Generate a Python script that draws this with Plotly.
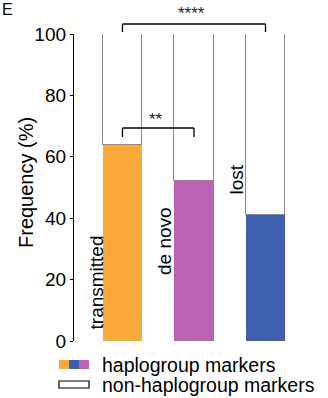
import plotly.graph_objects as go

# Categories and stacked percentages
categories = ["transmitted", "de novo", "lost"]
haplogroup_pct = [64, 52, 41]
non_haplogroup_pct = [100 - v for v in haplogroup_pct]
bar_colors = ["#F9A93A", "#BA62B4", "#3E5EB0"]
y_ticks = [0, 20, 40, 60, 80, 100]

# Significance brackets: (left category index, right category index, label)
brackets = [(0, 2, "****"), (0, 1, "**")]

W, H = 328, 398
L, R, T, B = 74, 28, 34, 57
pw, ph = W - L - R, H - T - B
xpos = list(range(len(categories)))
xmin, xmax = -0.678, 2.4825
FONT = "Liberation Sans, Arial, Helvetica, sans-serif"


def px(xp):
    return (xp - L) / pw


def py(yp):
    return (H - B - yp) / ph


def dx(v):
    return (v - xmin) / (xmax - xmin)


fig = go.Figure()
fig.add_trace(go.Bar(
    x=xpos, y=haplogroup_pct, width=0.55,
    marker=dict(color=bar_colors, line=dict(width=0)),
    showlegend=False,
))
fig.add_trace(go.Bar(
    x=xpos, y=non_haplogroup_pct, width=0.55,
    marker=dict(color="white", line=dict(color="#8a8a8a", width=1.2)),
    showlegend=False,
))

shapes = []
annotations = []

# Category names written vertically beside each bar
label_offsets = [(-26, 282), (-30, 241), (-29, 179)]
for i, name in enumerate(categories):
    ox, cy = label_offsets[i]
    annotations.append(dict(
        x=xpos[i] + ox / 71.5, y=py(cy), xref="x", yref="paper",
        text=name, textangle=-90, showarrow=False,
        font=dict(family=FONT, size=19, color="black"),
        xanchor="center", yanchor="middle",
    ))

# Brackets with significance stars
bracket_rows = [(24, 32, 14), (128, 137, 119)]
for (a, b, label), (ytop, ybot, ystar) in zip(brackets, bracket_rows):
    xa, xb = dx(xpos[a]), dx(xpos[b])
    line = dict(color="black", width=1.3)
    shapes.append(dict(type="line", xref="paper", yref="paper",
                       x0=xa, x1=xb, y0=py(ytop), y1=py(ytop), line=line))
    shapes.append(dict(type="line", xref="paper", yref="paper",
                       x0=xa, x1=xa, y0=py(ytop), y1=py(ybot), line=line))
    shapes.append(dict(type="line", xref="paper", yref="paper",
                       x0=xb, x1=xb, y0=py(ytop), y1=py(ybot), line=line))
    annotations.append(dict(
        x=(xa + xb) / 2 - 0.012, y=py(ystar), xref="paper", yref="paper",
        text=label, showarrow=False,
        font=dict(family=FONT, size=17, color="#222"),
        xanchor="center", yanchor="middle",
    ))

# Axis title
annotations.append(dict(
    x=px(26), y=py(183), xref="paper", yref="paper",
    text="Frequency (%)", textangle=-90, showarrow=False,
    font=dict(family=FONT, size=20, color="black"),
    xanchor="center", yanchor="middle",
))

# Panel letter
annotations.append(dict(
    x=px(0), y=py(10), xref="paper", yref="paper",
    text="E", showarrow=False,
    font=dict(family=FONT, size=16, color="black"),
    xanchor="left", yanchor="middle",
))

# Legend drawn by hand: tri-colour swatch and an empty box
seg = [bar_colors[0], bar_colors[2], bar_colors[1]]
for k, c in enumerate(seg):
    shapes.append(dict(type="rect", xref="paper", yref="paper",
                       x0=px(59 + 10 * k), x1=px(69 + 10 * k),
                       y0=py(369), y1=py(360),
                       line=dict(width=0), fillcolor=c))
shapes.append(dict(type="rect", xref="paper", yref="paper",
                   x0=px(59), x1=px(89), y0=py(388), y1=py(381),
                   line=dict(color="black", width=1.2), fillcolor="white"))
for text, yc in [("haplogroup markers", 364.5), ("non-haplogroup markers", 384.5)]:
    annotations.append(dict(
        x=px(100), y=py(yc), xref="paper", yref="paper",
        text=text, showarrow=False,
        font=dict(family=FONT, size=19.5, color="black"),
        xanchor="left", yanchor="middle",
    ))

fig.update_layout(
    width=W, height=H,
    margin=dict(l=L, r=R, t=T, b=B),
    paper_bgcolor="white", plot_bgcolor="white",
    barmode="stack", bargap=0,
    shapes=shapes, annotations=annotations,
    xaxis=dict(range=[xmin, xmax], visible=False, fixedrange=True),
    yaxis=dict(
        range=[0, 100], tickvals=y_ticks,
        showline=True, linecolor="black", linewidth=1.3,
        ticks="outside", ticklen=3, tickcolor="black",
        showgrid=False, zeroline=False,
        tickfont=dict(family=FONT, size=19, color="black"),
    ),
)

fig.write_html("out.html")
